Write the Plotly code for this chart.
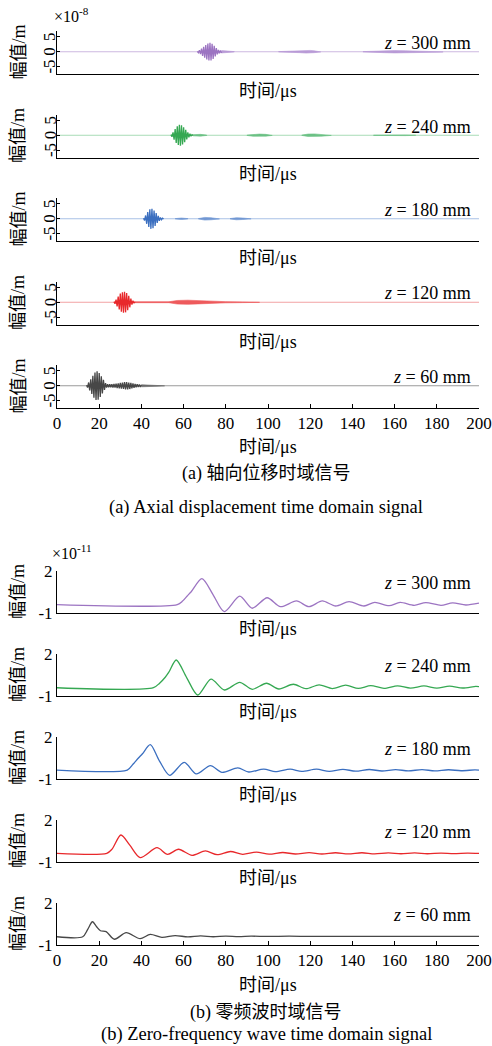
import plotly.graph_objects as go

W, H = 492, 1046

# ---------------- data ----------------
x_ticks = [0, 20, 40, 60, 80, 100, 120, 140, 160, 180, 200]
a_yticks = [-5, 0, 5]
b_yticks = [-1, 2]
b_yticktext = ["-1", "2"]
labels_z = ["300", "240", "180", "120", "60"]
colors = ["#9c74c2", "#35a852", "#3b6fc0", "#e8282b", "#474747"]
tail_colors = ["#b89ad6", "#6cc185", "#7197d3", "#ee5a5c", "#6a6a6a"]
base_colors = ["#cdb8e0", "#a8dcb6", "#a9c1e6", "#f2a3a4", "#9a9a9a"]

# (a) axial displacement (x1e-8 m)
# main wave packets: (start time in us, sample step in us, signed oscillation peaks)
a300_main = (66.5, 0.5, [0.15, -0.3, 0.5, -0.8, 1.1, -1.4, 1.7, -2.0, 2.3, -2.6, 2.8, -2.9, 3.0, -2.9, 2.7,
                         -2.4, 2.0, -1.6, 1.2, -0.9, 0.6, -0.5, 0.4, -0.4])
a240_main = (54.0, 0.5, [0.2, -0.5, 1.0, -1.5, 2.1, -2.6, 3.0, -3.3, 3.5, -3.5, 3.4, -3.1, 2.7, -2.3, 1.8,
                         -1.4, 1.0, -0.7, 0.5, -0.3, 0.2, -0.1])
a180_main = (41.0, 0.5, [0.2, -0.6, 1.1, -1.7, 2.3, -2.8, 3.2, -3.4, 3.4, -3.2, 2.8, -2.4, 1.9, -1.4, 1.0,
                         -0.7, 0.4, -0.3, 0.2, -0.1])
a120_main = (27.0, 0.5, [0.2, -0.5, 0.9, -1.4, 1.9, -2.4, 2.9, -3.2, 3.4, -3.5, 3.5, -3.4, 3.1, -2.7, 2.2,
                         -1.7, 1.2, -0.8, 0.5, -0.3, 0.2])
a60_main = (14.0, 0.5, [0.2, -0.6, 1.1, -1.6, 2.2, -2.8, 3.4, -4.0, 4.5, -4.8, 4.9, -4.7, 4.3, -3.8, 3.2,
                        -2.6, 2.0, -1.4, 0.9, -0.6, 0.5, -0.5, 0.5, -0.5, 0.5, -0.6, 0.6, -0.6, 0.7,
                        -0.8, 0.8, -0.9, 1.0, -1.0, 1.1, -1.1, 1.2, -1.2, 1.2, -1.2, 1.1, -1.1, 1.0, -0.9,
                        0.8, -0.7, 0.6, -0.5, 0.5, -0.4, 0.4, -0.4, 0.3])
a_main = [a300_main, a240_main, a180_main, a120_main, a60_main]

# weak trailing packets: envelope (time us, half-amplitude)
a300_tails = [([78, 80, 82, 84], [0.4, 0.35, 0.25, 0.05]),
              ([105, 110, 115, 118, 120, 122, 125], [0.05, 0.2, 0.3, 0.45, 0.45, 0.3, 0.05]),
              ([145, 150, 155, 160, 165, 170, 175, 180, 183], [0.05, 0.2, 0.3, 0.4, 0.35, 0.3, 0.25, 0.15, 0.05])]
a240_tails = [([64.5, 66, 68, 71], [0.2, 0.35, 0.3, 0.05]),
              ([90, 93, 96, 99, 102], [0.05, 0.35, 0.4, 0.3, 0.05]),
              ([116, 119, 122, 125, 130], [0.05, 0.4, 0.45, 0.35, 0.05]),
              ([150, 158, 165, 170], [0.05, 0.15, 0.12, 0.03])]
a180_tails = [([56, 59, 62], [0.05, 0.25, 0.05]),
              ([67, 70, 73, 77], [0.05, 0.45, 0.35, 0.05]),
              ([82, 85, 88, 92], [0.05, 0.35, 0.25, 0.03])]
a120_tails = [([37, 45, 53], [0.15, 0.1, 0.15]),
              ([53, 57, 62, 67, 72, 80, 88, 96], [0.15, 0.6, 0.7, 0.55, 0.3, 0.2, 0.12, 0.03])]
a60_tails = [([40, 44, 48, 51], [0.35, 0.25, 0.15, 0.03])]
a_tails = [a300_tails, a240_tails, a180_tails, a120_tails, a60_tails]

# (b) zero-frequency wave (x1e-11 m): (time us, value)
b300_t = [0, 57, 59.5, 61.6, 63.5, 68.7, 74, 79.3, 86.6, 92.5, 99.6, 105.9, 113.5, 119.4, 125.7, 132.1,
          138.4, 145.5, 150.6, 157.4, 162.6, 169.3, 174.8, 182, 187.5, 193.8, 200]
b300_v = [-0.4, -0.4, -0.15, 0.2, 0.5, 1.45, 0.3, -0.9, 0.2, -0.66, 0.09, -0.55, -0.14, -0.55, -0.14, -0.5,
          -0.19, -0.5, -0.24, -0.48, -0.24, -0.45, -0.26, -0.45, -0.28, -0.43, -0.3]
b240_t = [0, 45.7, 48.5, 51.3, 53, 56.5, 61.5, 66.7, 73, 79.3, 86.6, 92.5, 99.3, 105.1, 112, 118, 124.2,
          130.5, 136.8, 142.8, 148.7, 155, 161.4, 167.5, 173.9, 180, 186, 192.3, 198.5, 200]
b240_v = [-0.41, -0.41, -0.1, 0.34, 0.7, 1.57, 0.3, -0.93, 0.21, -0.57, -0.02, -0.52, -0.09, -0.5, -0.16,
          -0.48, -0.2, -0.47, -0.23, -0.46, -0.26, -0.45, -0.27, -0.44, -0.28, -0.44, -0.3, -0.43, -0.31, -0.33]
b180_t = [0, 33.3, 36, 38.6, 40.5, 44.2, 48.5, 53.4, 60.3, 66, 72.7, 78.2, 85.7, 90.9, 98, 103.5, 110.5,
          116, 123, 129, 135.5, 141.5, 148, 154, 160.5, 166.5, 173, 179, 185.5, 191.5, 198, 200]
b180_v = [-0.36, -0.36, 0.05, 0.5, 0.8, 1.45, 0.3, -0.74, 0.19, -0.64, -0.05, -0.52, -0.21, -0.5, -0.29,
          -0.48, -0.3, -0.46, -0.3, -0.45, -0.31, -0.44, -0.32, -0.43, -0.33, -0.42, -0.33, -0.42, -0.34,
          -0.41, -0.35, -0.36]
b120_t = [0, 23.6, 26, 30.3, 34.5, 39.4, 47.4, 52.4, 57.6, 64, 70.3, 75.9, 82.2, 88, 94.5, 100.5, 107, 113,
          119.5, 125.5, 132, 138, 144.5, 150.5, 157, 163, 169.5, 175.5, 182, 188, 194.5, 200]
b120_v = [-0.38, -0.38, -0.1, 0.93, 0.2, -0.69, 0.02, -0.45, -0.09, -0.52, -0.21, -0.48, -0.25, -0.45,
          -0.3, -0.44, -0.32, -0.43, -0.33, -0.43, -0.34, -0.42, -0.34, -0.42, -0.35, -0.41, -0.35, -0.41,
          -0.36, -0.4, -0.36, -0.38]
b60_t = [0, 12.2, 14.5, 16.8, 18.8, 20.6, 23.3, 27.2, 32.8, 39.4, 44.2, 49.7, 56, 62, 68, 74, 80, 86, 92,
         100, 110, 120, 130, 140, 160, 180, 200]
b60_v = [-0.41, -0.41, 0.1, 0.66, 0.3, 0.02, -0.05, -0.59, -0.12, -0.55, -0.24, -0.45, -0.33, -0.42, -0.35,
         -0.41, -0.36, -0.4, -0.37, -0.39, -0.37, -0.39, -0.38, -0.39, -0.38, -0.39, -0.38]
b_series = [(b300_t, b300_v), (b240_t, b240_v), (b180_t, b180_v), (b120_t, b120_v), (b60_t, b60_v)]

# ---------------- layout geometry (px) ----------------
X0, X1 = 57, 479
a_tops = [31, 114.5, 198, 281.5, 365]
b_tops = [571, 654, 737, 820, 903]
PANEL_H = 43
PANEL_HB = 42
A_RANGE = [-7.5, 7]
B_RANGE = [-1, 2]

def fx(p):
    return p / W

def fy(p):
    return 1 - p / H

SERIF = "Liberation Serif, Noto Sans CJK SC, serif"
fig = go.Figure()
annotations = []

def ax_names(idx):
    s = "" if idx == 1 else str(idx)
    return f"x{s}", f"y{s}", f"xaxis{s}", f"yaxis{s}"

def add_axes(idx, top, height, yr, tickvals, ticktext, show_ylabels, last):
    xs, ys, xa, ya = ax_names(idx)
    fig.layout[xa] = dict(
        domain=[fx(X0), fx(X1)], range=[0, 200], anchor=ys, automargin=False,
        showline=True, linecolor="black", linewidth=1, showgrid=False, zeroline=False,
        ticks="inside" if last else "", ticklen=4, tickcolor="black",
        tickvals=x_ticks, showticklabels=last,
        tickfont=dict(family=SERIF, size=17, color="black"), fixedrange=True)
    fig.layout[ya] = dict(
        domain=[fy(top + height), fy(top)], range=yr, anchor=xs, automargin=False,
        showline=True, linecolor="black", linewidth=1, showgrid=False, zeroline=False,
        ticks="inside", ticklen=3, tickcolor="black", tickvals=tickvals, ticktext=ticktext,
        showticklabels=show_ylabels, tickfont=dict(family=SERIF, size=17, color="black"), fixedrange=True)

def common_texts(top, height, k, label_gap):
    annotations.append(dict(x=fx(473), y=fy(top + 12), xref="paper", yref="paper", xanchor="right",
                            yanchor="middle", showarrow=False, text=f"<i>z</i> = {labels_z[k]} mm",
                            font=dict(family=SERIF, size=18, color="black")))
    annotations.append(dict(x=fx(18), y=fy(top + height / 2), xref="paper", yref="paper",
                            xanchor="center", yanchor="middle", showarrow=False, text="幅值/m",
                            textangle=-90, font=dict(family=SERIF, size=18, color="black")))
    annotations.append(dict(x=fx((X0 + X1) / 2), y=fy(top + height + label_gap), xref="paper", yref="paper",
                            xanchor="center", yanchor="middle", showarrow=False, text="时间/μs",
                            font=dict(family=SERIF, size=18, color="black")))

idx = 0
# (a) panels
for k in range(5):
    idx += 1
    top = a_tops[k]
    xs_, ys_, _, _ = ax_names(idx)
    fig.add_trace(go.Scatter(x=[0, 200], y=[0, 0], mode="lines", line=dict(color=base_colors[k], width=1),
                             xaxis=xs_, yaxis=ys_, showlegend=False, hoverinfo="skip"))
    for tt, env in a_tails[k]:
        fig.add_trace(go.Scatter(x=tt + tt[::-1], y=env + [-e for e in env[::-1]], mode="lines",
                                 fill="toself", fillcolor=tail_colors[k],
                                 line=dict(color=tail_colors[k], width=0.6),
                                 xaxis=xs_, yaxis=ys_, showlegend=False, hoverinfo="skip"))
    start, step, vals = a_main[k]
    fig.add_trace(go.Scatter(x=[start + i * step for i in range(len(vals))], y=vals, mode="lines",
                             line=dict(color=colors[k], width=1.3),
                             xaxis=xs_, yaxis=ys_, showlegend=False, hoverinfo="skip"))
    add_axes(idx, top, PANEL_H, A_RANGE, a_yticks, None, False, k == 4)
    # rotated y tick labels
    for tv in a_yticks:
        ypx = top + (A_RANGE[1] - tv) / (A_RANGE[1] - A_RANGE[0]) * PANEL_H
        annotations.append(dict(x=fx(50), y=fy(ypx), xref="paper", yref="paper", xanchor="center",
                                yanchor="middle", showarrow=False, text=str(tv), textangle=-90,
                                font=dict(family=SERIF, size=17, color="black")))
    common_texts(top, PANEL_H, k, 39 if k == 4 else 17)

# (b) panels
for k in range(5):
    idx += 1
    top = b_tops[k]
    xs_, ys_, _, _ = ax_names(idx)
    t, v = b_series[k]
    fig.add_trace(go.Scatter(x=t, y=v, mode="lines", line=dict(color=colors[k], width=1.3, shape="spline",
                                                               smoothing=0.8),
                             xaxis=xs_, yaxis=ys_, showlegend=False, hoverinfo="skip"))
    add_axes(idx, top, PANEL_HB, B_RANGE, b_yticks, b_yticktext, True, k == 4)
    common_texts(top, PANEL_HB, k, 40 if k == 4 else 16)

# exponents
annotations.append(dict(x=fx(52), y=fy(15), xref="paper", yref="paper", xanchor="left", yanchor="middle",
                        showarrow=False, text="×10<sup>-8</sup>",
                        font=dict(family=SERIF, size=16, color="black")))
annotations.append(dict(x=fx(50), y=fy(552), xref="paper", yref="paper", xanchor="left", yanchor="middle",
                        showarrow=False, text="×10<sup>-11</sup>",
                        font=dict(family=SERIF, size=16, color="black")))
# captions
caps = [(473, "(a) 轴向位移时域信号", 18), (507, "(a) Axial displacement time domain signal", 18.5),
        (1012, "(b) 零频波时域信号", 18), (1034, "(b) Zero-frequency wave time domain signal", 18.5)]
for yy, txt, fs in caps:
    annotations.append(dict(x=fx(266), y=fy(yy), xref="paper", yref="paper", xanchor="center",
                            yanchor="middle", showarrow=False, text=txt,
                            font=dict(family=SERIF, size=fs, color="black")))

fig.update_layout(width=W, height=H, margin=dict(l=0, r=0, t=0, b=0, autoexpand=False),
                  paper_bgcolor="white", plot_bgcolor="white", annotations=annotations)
fig.write_html("out.html", config={"displayModeBar": False},
               post_script="document.body.style.margin='0px';document.body.style.overflow='hidden';")
